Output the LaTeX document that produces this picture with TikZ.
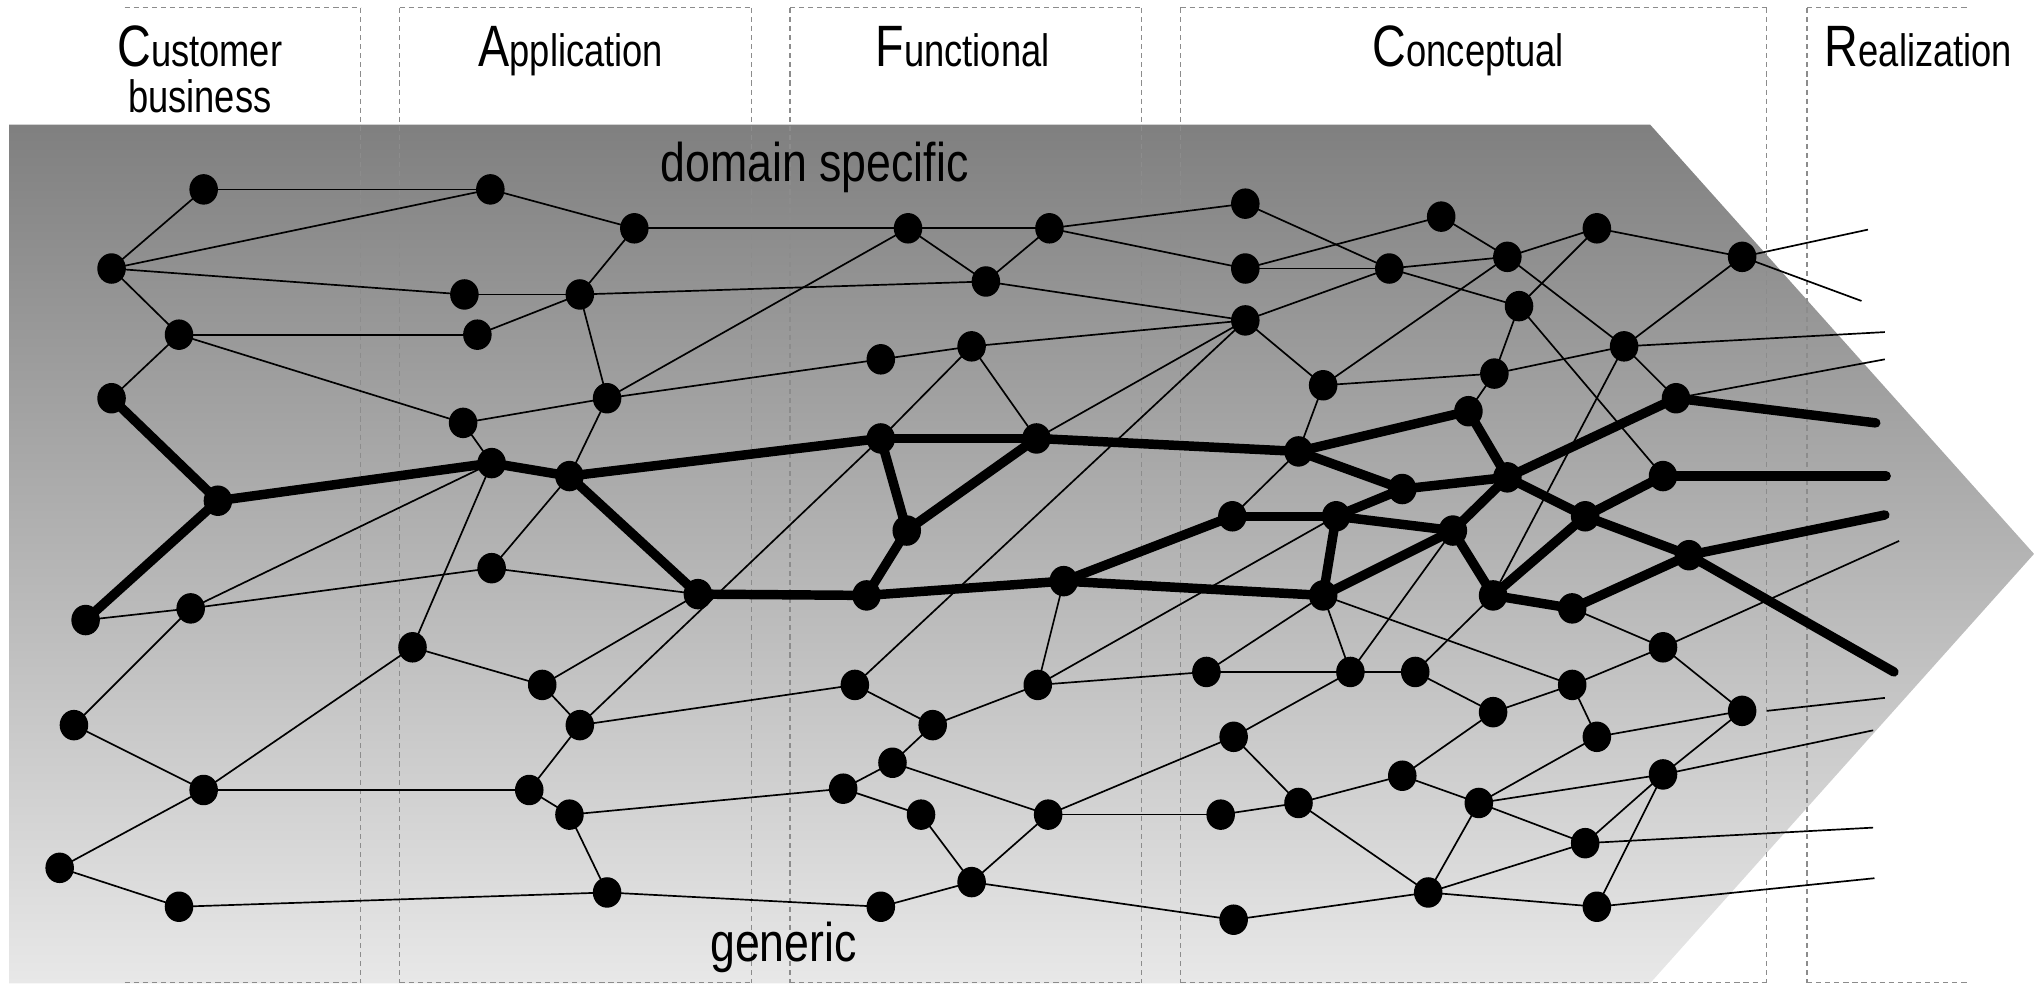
\documentclass[tikz,border=0pt]{standalone}
\usepackage{fontspec}
\usetikzlibrary{shapes.geometric}
\newfontfamily\labfont[FakeStretch=0.80]{Liberation Sans}
\newfontfamily\bigfont[FakeStretch=0.82]{Liberation Sans}
\newcommand\bigInitial[1]{{\fontsize{45}{45}\selectfont #1}}
\pgfdeclarelayer{bg}
\pgfdeclarelayer{edges}
\pgfsetlayers{bg,edges,main}
\begin{document}
\begin{tikzpicture}[x=1pt,y=-1pt,
  dot/.style={ellipse,fill=black,inner sep=0pt,minimum width=22pt,minimum height=23.5pt},
  thinedge/.style={line width=1.3pt},
  thickedge/.style={line width=7.3pt,line cap=round,line join=round},
  colline/.style={black!45,line width=0.8pt,dash pattern=on 4pt off 3pt},
  collabel/.style={font=\labfont\fontsize{35}{35}\selectfont,anchor=base,inner sep=0pt},
  biglabel/.style={font=\bigfont\fontsize{42}{42}\selectfont,anchor=base,inner sep=0pt},
]
\useasboundingbox (0,0) rectangle (1568,759);

% shaded arrow-shaped field and the column frames
\begin{pgfonlayer}{bg}
  \shade[top color=black!50,bottom color=black!9]
    (7,96) -- (1272,96) -- (1568,427) -- (1272,758) -- (7,758) -- cycle;
  \foreach \x in {278,308,579,609,880,910,1362,1393}
    \draw[colline] (\x,6) -- (\x,758);
  \foreach \a/\b in {96/278,308/579,609/880,910/1362,1393/1518}
    {\draw[colline] (\a,6) -- (\b,6);
     \draw[colline] (\a,757.5) -- (\b,757.5);}
\end{pgfonlayer}

% column headings
\node[collabel] (lcust) at (154,51) {\bigInitial{C}ustomer};
\node[collabel] (lbus)  at (154,87) {business};
\node[collabel] (lapp)  at (440,51) {\bigInitial{A}pplication};
\node[collabel] (lfun)  at (742,51) {\bigInitial{F}unctional};
\node[collabel] (lcon)  at (1132,51) {\bigInitial{C}onceptual};
\node[collabel] (lrea)  at (1479,51) {\bigInitial{R}ealization};
\node[biglabel] (ldom)  at (628,140) {domain specific};
\node[biglabel] (lgen)  at (604,741) {generic};

% concepts
\foreach \i/\x/\y in {
  1/157/146, 2/378/146, 3/489/176, 4/86/207, 5/358/227, 6/447/227,
  7/138/258, 8/368/258, 9/86/307, 10/357/326, 11/468/307, 12/700/176,
  13/809/176, 14/760/217, 15/960/157, 16/960/207, 17/960/247, 18/679/277,
  19/749/267, 20/1111/167, 21/1071/207, 22/1162/198, 23/1231/176,
  24/1343/198, 25/1171/236, 26/1252/267, 27/1020/297, 28/1152/288,
  29/1132/317, 30/1292/307, 31/168/386, 32/66/478, 33/379/357, 34/439/367,
  35/538/458, 36/679/338, 37/799/338, 38/699/409, 39/668/459, 40/820/448,
  41/1001/348, 42/1081/377, 43/1162/368, 44/950/398, 45/1030/398,
  46/1120/409, 47/1020/459, 48/1151/459, 49/1212/469, 50/1222/398,
  51/1282/367, 52/1302/428, 53/379/438, 54/147/469, 55/318/499,
  56/57/559, 57/418/528, 58/447/559, 59/157/609, 60/408/609, 61/439/628,
  62/46/669, 63/138/699, 64/468/688, 65/659/528, 66/800/528, 67/719/559,
  68/688/588, 69/650/608, 70/710/628, 71/808/628, 72/749/680, 73/679/699,
  74/930/518, 75/1041/518, 76/1091/518, 77/1151/549, 78/1212/528,
  79/1282/499, 80/1343/548, 81/1231/568, 82/951/568, 83/1081/598,
  84/1001/619, 85/941/628, 86/1140/619, 87/1282/597, 88/1222/650,
  89/1101/688, 90/1231/699, 91/951/709}
  \node[dot] (n\i) at (\x,\y) {};

% loose ends leaving towards the realization column
\coordinate (e1) at (1440,177);
\coordinate (e2) at (1435,232);
\coordinate (e3) at (1453,256);
\coordinate (e4) at (1453,277);
\coordinate (e5) at (1446,326);
\coordinate (e6) at (1454,367);
\coordinate (e7) at (1453,397);
\coordinate (e8) at (1460,518);
\coordinate (e9) at (1464,417);
\coordinate (e10a) at (1362,548);
\coordinate (e10b) at (1453,538);
\coordinate (e11) at (1444,563);
\coordinate (e12) at (1444,638);
\coordinate (e13) at (1445,677);

\begin{pgfonlayer}{edges}
  \foreach \a/\b in {
    1/2, 1/4, 4/2, 2/3, 3/12, 4/5, 4/7, 5/6, 6/3, 6/14, 7/8, 8/6, 7/9,
    7/10, 6/11, 11/12, 11/18, 10/11, 10/33, 11/34,
    12/13, 12/14, 13/14, 13/15, 13/16, 14/17, 18/19, 19/17, 19/36, 19/37,
    17/37, 17/65, 36/58, 17/21, 17/27,
    15/21, 16/20, 16/21, 20/22, 21/22, 22/23, 23/24, 21/25, 22/26, 23/25,
    22/27, 24/26, 25/28, 25/51, 28/26, 26/48, 26/30, 27/28, 28/29, 27/41,
    41/44,
    32/54, 54/33, 54/53, 53/35, 33/55, 34/53, 55/57, 57/35, 54/56, 56/59,
    59/55, 59/60, 59/62, 62/63, 63/64, 60/58, 60/61, 61/64, 61/69, 64/73,
    58/65, 57/58,
    65/67, 67/66, 66/74, 74/75, 74/47, 66/45, 40/66, 67/68, 68/69, 68/71,
    69/70, 70/72, 71/72, 71/85, 71/82, 82/84, 85/84, 84/83, 84/89, 82/75,
    72/73, 72/91, 91/89, 75/76, 47/78, 47/75, 75/46,
    49/79, 48/76, 76/77, 77/78, 78/79, 79/80, 78/81, 81/80, 77/83, 83/86,
    86/81, 86/87, 86/88, 86/89, 87/80, 87/88, 87/90, 88/89, 89/90}
    \draw[thinedge] (n\a.center) -- (n\b.center);
  \foreach \a/\b in {24/e1, 24/e2, 26/e3, 30/e4, 79/e9, 87/e11, 88/e12, 90/e13}
    \draw[thinedge] (n\a.center) -- (\b);
  \draw[thinedge] (e10a) -- (e10b);
  % the highlighted chains of reasoning
  \foreach \a/\b in {
    9/31, 31/32, 31/33, 33/34, 34/36, 34/35, 35/39, 36/37, 36/38, 37/38,
    38/39, 39/40, 37/41, 40/44, 40/47, 44/45, 45/47, 45/46, 47/46, 41/29,
    29/43, 41/42, 42/43, 45/42, 46/43, 46/48, 48/49, 48/50, 43/50, 50/51,
    50/52, 49/52, 43/30}
    \draw[thickedge] (n\a.center) -- (n\b.center);
  \foreach \a/\b in {30/e5, 51/e6, 52/e7, 52/e8}
    \draw[thickedge] (n\a.center) -- (\b);
\end{pgfonlayer}
\end{tikzpicture}
\end{document}
